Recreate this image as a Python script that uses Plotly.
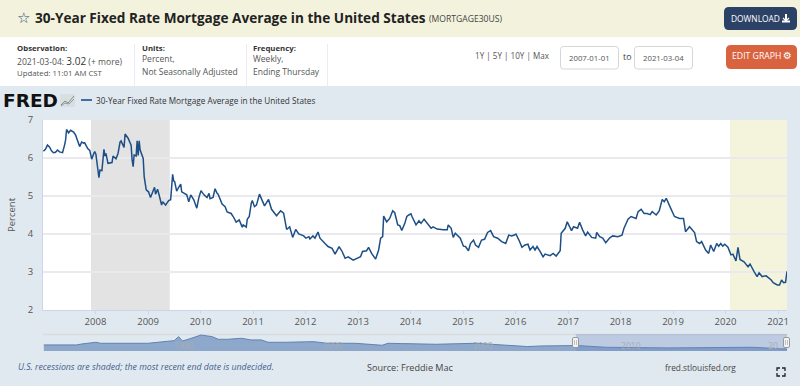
import pandas as pd
import plotly.graph_objects as go

weeks_2007 = [0,2,4,6,8,10,12,14,16,19,21,22,23,25,27,30,32,34,36,38,40,41,44,46,48,50,51]
vals_2007 = [6.18,6.23,6.34,6.29,6.19,6.14,6.15,6.21,6.16,6.14,6.34,6.47,6.75,6.66,6.73,6.68,6.6,6.47,6.3,6.42,6.39,6.4,6.25,6.2,5.97,6.12,6.17]
weeks_2008 = [0,2,3,4,6,8,9,10,12,16,17,20,22,24,25,28,29,32,35,36,37,38,40,41,42,43,44,47,48,50]
vals_2008 = [6.1,5.75,5.48,5.68,5.67,6.23,6.05,6.12,5.86,5.88,6.05,5.98,6.12,6.42,6.45,6.28,6.63,6.52,6.34,5.95,5.77,6.08,6.05,6.45,6.07,6.45,6.21,5.99,5.51,5.16]
weeks_2009 = [0,2,4,6,7,9,11,13,14,17,20,22,24,25,26,28,30,32,33,38,40,42,45,48,50]
vals_2009 = [5.11,4.96,5.11,5.23,5.05,5.18,4.98,4.76,4.85,4.76,4.88,4.9,5.57,5.4,5.38,5.13,5.23,5.31,5.11,5.03,4.85,5.03,4.9,4.68,4.95]
weeks_2010 = [0,3,6,8,9,12,14,16,17,21,24,26,30,32,35,38,41,42,45,46,48,50,51]
vals_2010 = [5.14,5.03,4.96,5.07,4.93,4.96,5.19,5.07,5.05,4.79,4.72,4.58,4.54,4.46,4.31,4.37,4.18,4.24,4.18,4.39,4.46,4.81,4.88]
weeks_2011 = [1,3,6,9,11,15,18,23,27,30,33,36,39,42,45,50]
vals_2011 = [4.72,4.76,5.05,4.89,4.74,4.91,4.65,4.48,4.61,4.55,4.12,4.19,3.91,4.12,4.0,3.95]
weeks_2012 = [0,3,4,7,9,12,14,19,22,26,29,33,36,39,42,47,50]
vals_2012 = [3.89,3.93,3.87,3.95,3.89,4.05,3.89,3.75,3.67,3.62,3.47,3.67,3.54,3.36,3.40,3.31,3.34]
weeks_2013 = [2,4,8,10,13,17,20,22,24,25,28,31,34,36,39,41,43,46,48,50]
vals_2013 = [3.40,3.54,3.56,3.65,3.49,3.34,3.58,3.89,3.93,4.47,4.32,4.41,4.61,4.56,4.24,4.22,4.09,4.28,4.46,4.5]
weeks_2014 = [0,1,5,8,10,13,16,20,22,26,32,36,37,40,42,44,49]
vals_2014 = [4.53,4.46,4.24,4.35,4.28,4.39,4.30,4.15,4.19,4.13,4.11,4.11,4.24,4.15,3.91,4.02,3.89]
weeks_2015 = [0,2,5,7,10,12,15,18,21,24,27,30,34,38,42,45,48,51]
vals_2015 = [3.68,3.67,3.56,3.75,3.84,3.71,3.65,3.84,3.86,4.04,4.09,3.93,3.89,3.8,3.75,3.97,3.95,3.98]
weeks_2016 = [0,3,6,9,12,14,17,19,21,24,27,29,34,37,40,44,45,49,51]
vals_2016 = [4.0,3.84,3.65,3.71,3.73,3.58,3.67,3.58,3.67,3.54,3.40,3.47,3.43,3.49,3.42,3.56,4.02,4.15,4.32]
weeks_2017 = [3,5,9,11,14,17,19,23,27,28,31,34,37,41,44,49]
vals_2017 = [4.09,4.19,4.15,4.31,4.11,3.95,4.05,3.91,3.89,4.04,3.93,3.89,3.77,3.90,3.95,3.93]
weeks_2018 = [1,3,7,10,15,17,20,23,26,29,31,35,38,41,43,45,48,51]
vals_2018 = [3.97,4.15,4.39,4.46,4.41,4.59,4.65,4.54,4.54,4.51,4.59,4.5,4.61,4.91,4.85,4.94,4.76,4.59]
weeks_2019 = [1,6,10,12,16,21,23,26,28,32,35,37,40,43,45,47,49,51]
vals_2019 = [4.46,4.41,4.41,4.06,4.19,4.04,3.8,3.75,3.8,3.58,3.49,3.71,3.54,3.75,3.68,3.75,3.68,3.73]
weeks_2020 = [2,5,7,10,12,14,18,22,24,28,31,33,36,40,45,47,51]
vals_2020 = [3.65,3.45,3.47,3.29,3.65,3.33,3.27,3.14,3.21,3.01,2.88,2.98,2.88,2.9,2.79,2.72,2.66]
weeks_2021 = [1,3,5,7,9]
vals_2021 = [2.66,2.79,2.72,2.73,3.02]

nav_years = [1971.3,1973.5,1973.8,1974.8,1975.1,1978.3,1979.8,1980.05,1980.35,1980.6,1981.05,1981.85,1982.3,1982.6,1983,1983.65,1984.55,1985.2,1985.9,1986.35,1987.5,1988.6,1989.4,1990.3,1992.2,1994,1994.4,1995.3,1997.6,2000.3,2001.4,2003.75,2004.75,2007.1,2009,2011,2013.2,2018.8,2020.9,2021.17]
nav_vals = [7.5,7.5,8.4,10.4,9.3,9.3,11.8,12.2,16.6,11.8,14,18.4,17.3,16.6,13.7,13.7,14.8,13,13,10.4,10.4,10.4,11.1,9.3,9.3,7.1,9.3,9.0,8.2,9.3,8.2,5.7,6.4,6.75,4.9,4.2,4.2,4.9,2.7,3.0]

year_tick_vals = list(range(2008, 2022))
y_ticks = [2, 3, 4, 5, 6, 7]
nav_labels = ["1980", "1990", "2000", "2010", "20.."]

all_weeks = {2007:(weeks_2007,vals_2007),2008:(weeks_2008,vals_2008),2009:(weeks_2009,vals_2009),
             2010:(weeks_2010,vals_2010),2011:(weeks_2011,vals_2011),2012:(weeks_2012,vals_2012),
             2013:(weeks_2013,vals_2013),2014:(weeks_2014,vals_2014),2015:(weeks_2015,vals_2015),
             2016:(weeks_2016,vals_2016),2017:(weeks_2017,vals_2017),2018:(weeks_2018,vals_2018),
             2019:(weeks_2019,vals_2019),2020:(weeks_2020,vals_2020),2021:(weeks_2021,vals_2021)}
dates, values = [], []
for yr, (w, v) in all_weeks.items():
    for a, b in zip(w, v):
        dates.append(pd.Timestamp(f"{yr}-01-04") + pd.Timedelta(days=7 * a))
        values.append(b)
dates[-1] = pd.Timestamp("2021-03-04")

nav_dates = [pd.Timestamp(f"{int(y)}-01-01") + pd.Timedelta(days=(y % 1) * 365.25) for y in nav_years]

W, H = 800, 386
def xp(x): return x / W
def yp(y): return 1 - y / H

FONT = "Open Sans"
shapes, ann = [], []

def rect(x0, y0, x1, y1, fill, line=None, layer="below", lw=1):
    shapes.append(dict(type="rect", xref="paper", yref="paper", x0=xp(x0), x1=xp(x1), y0=yp(y1), y1=yp(y0),
                       fillcolor=fill, line=dict(color=line or "rgba(0,0,0,0)", width=lw if line else 0), layer=layer))

def rrect(x0, y0, x1, y1, r, fill, line=None, layer="below", lw=1):
    X0, X1, Y0, Y1 = xp(x0), xp(x1), yp(y0), yp(y1)
    rx, ry = r / W, r / H
    p = (f"M {X0+rx} {Y0} L {X1-rx} {Y0} Q {X1} {Y0} {X1} {Y0-ry} L {X1} {Y1+ry} Q {X1} {Y1} {X1-rx} {Y1} "
         f"L {X0+rx} {Y1} Q {X0} {Y1} {X0} {Y1+ry} L {X0} {Y0-ry} Q {X0} {Y0} {X0+rx} {Y0} Z")
    shapes.append(dict(type="path", xref="paper", yref="paper", path=p, fillcolor=fill,
                       line=dict(color=line or "rgba(0,0,0,0)", width=lw if line else 0), layer=layer))

def seg(pts, color, width=1, fill=None, layer="above"):
    p = "M " + " L ".join(f"{xp(a)} {yp(b)}" for a, b in pts)
    d = dict(type="path", xref="paper", yref="paper", path=p, line=dict(color=color, width=width), layer=layer)
    if fill:
        d["fillcolor"] = fill
    shapes.append(d)

def text(x, y, s, size=10, color="#555", anchor="left", font=FONT, **kw):
    ann.append(dict(xref="paper", yref="paper", x=xp(x), y=yp(y), text=s, showarrow=False, xanchor=anchor,
                    yanchor="middle", align=anchor, borderpad=0, borderwidth=0,
                    font=dict(size=size, color=color, family=font), **kw))

# page bands
rect(0, 0, 800, 37, "#f3f3dd")
rect(0, 37, 800, 86, "#ffffff")
rect(43, 120, 787, 310, "#ffffff")

# header
text(17, 18, "☆", 15, "#2b4a7a", font="DejaVu Sans")
text(34.5, 18, "<b>30-Year Fixed Rate Mortgage Average in the United States</b>", 13.6, "#222")
text(429, 19.5, "(MORTGAGE30US)", 8.6, "#444")
rrect(724, 7, 797, 30, 5, "#2b4166")
text(731, 18.5, "DOWNLOAD", 8.4, "#ffffff")
seg([(786, 14), (786, 20)], "#ffffff", 2)
seg([(783, 18), (786, 21), (789, 18)], "#ffffff", 1.2)
seg([(782, 21.5), (790, 21.5)], "#ffffff", 2)
rrect(726, 45, 797, 69, 5, "#d9623f")
text(731.5, 56, "EDIT GRAPH", 8.7, "#ffffff")
text(783, 55.5, "⚙", 10, "#ffffff", font="DejaVu Sans")

# meta
text(17, 48, "<b>Observation:</b>", 7.8, "#333")
text(17, 61, "2021-03-04: <span style='font-size:10px;color:#333'>3.02</span> (+ more)", 8.6, "#555")
text(17, 73, "Updated: 11:01 AM CST", 7.8, "#555")
text(142, 48, "<b>Units:</b>", 7.8, "#333")
text(142, 59, "Percent,", 8.5, "#555")
text(142, 71, "Not Seasonally Adjusted", 8.5, "#555")
text(253, 48, "<b>Frequency:</b>", 7.8, "#333")
text(253, 59, "Weekly,", 8.5, "#555")
text(253, 71, "Ending Thursday", 8.5, "#555")
for dx in (134.5, 246.5, 327.5):
    seg([(dx, 44), (dx, 86)], "#e8edf2", 1, layer="below")
text(475, 55, "1Y | 5Y | 10Y | Max", 8.1, "#555")
rrect(560.5, 46.5, 618.5, 69, 3, "#ffffff", "#d6d6d6")
rrect(634.5, 46.5, 692.5, 69, 3, "#ffffff", "#d6d6d6")
text(589.5, 58, "2007-01-01", 7.8, "#555", anchor="center")
text(663.5, 58, "2021-03-04", 7.8, "#555", anchor="center")
text(626.5, 57, "to", 8.8, "#444", anchor="center")

# FRED logo + legend
text(3, 100, "<b>FRED</b>", 18.5, "#111", font="DejaVu Sans")
rect(60, 94, 75, 107, "#d9dee2")
seg([(61, 105), (65, 101), (68, 103), (74, 96)], "#7d9a6a", 1)
seg([(61, 106), (65, 103), (69, 104), (74, 99)], "#8a9aa8", 1)
seg([(81, 100), (92, 100)], "#1d4f86", 1.6)
text(96, 100, "30-Year Fixed Rate Mortgage Average in the United States", 8.2, "#333")

# chart bands on the data axis
for a, b, c in [("2007-12-01", "2009-06-01", "#e3e3e3"), ("2020-02-01", "2021-03-04", "#f4f3dc")]:
    shapes.append(dict(type="rect", xref="x", yref="y", x0=a, x1=b, y0=2, y1=7, fillcolor=c, line=dict(width=0), layer="below"))

# navigator furniture
seg([(43, 334.5), (787, 334.5)], "#d9dcdc", 1.5, layer="below")
shapes.append(dict(type="rect", xref="x2", yref="paper", x0="2007-01-01", x1="2021-03-04", y0=yp(351), y1=yp(334),
                   fillcolor="rgba(102,133,194,0.3)", line=dict(width=0), layer="above"))
for hx in (575.5, 786.5):
    rrect(hx - 3, 337.5, hx + 3, 347.5, 1.5, "#f4f4f4", "#999999", layer="above")
    seg([(hx - 1, 340), (hx - 1, 345)], "#aaaaaa", 0.7)
    seg([(hx + 1, 340), (hx + 1, 345)], "#aaaaaa", 0.7)
for lx, lab in zip((184, 333, 483, 631, 782), nav_labels):
    text(lx, 346, lab, 8.6, "#a9adb3", anchor="center" if lab != "20.." else "right")

# footer
text(18, 367, "<i>U.S. recessions are shaded; the most recent end date is undecided.</i>", 8.75, "#3f5f8f")
text(367, 367, "Source: Freddie Mac", 9.1, "#444")
text(665, 367, "fred.stlouisfed.org", 8.3, "#444")
for a, b, c in [((777, 371), (777, 368), (780, 368)), ((782, 368), (785, 368), (785, 371)),
                ((785, 373), (785, 376), (782, 376)), ((780, 376), (777, 376), (777, 373))]:
    seg([a, b, c], "#222", 1.3)

fig = go.Figure()
fig.add_trace(go.Scatter(x=dates, y=values, mode="lines", line=dict(color="#1d4f86", width=1.5),
                         name="30-Year Fixed Rate Mortgage Average in the United States", hoverinfo="x+y"))
fig.add_trace(go.Scatter(x=nav_dates, y=nav_vals, mode="lines", xaxis="x2", yaxis="y2", fill="tozeroy",
                         line=dict(color="#5f83b3", width=1), fillcolor="#8da8cb", name="Navigator", hoverinfo="skip"))

fig.update_layout(
    width=W, height=H, margin=dict(l=0, r=0, t=0, b=0, autoexpand=False), showlegend=False,
    paper_bgcolor="#e1e9f0", plot_bgcolor="rgba(0,0,0,0)",
    font=dict(family=FONT, size=10, color="#555"),
    xaxis=dict(domain=[xp(43), xp(787)], type="date", range=["2007-01-01", "2021-03-04"],
               tickvals=[f"{y}-01-01" for y in year_tick_vals], ticktext=[str(y) for y in year_tick_vals],
               ticks="outside", ticklen=3, tickcolor="#ccd6eb", showline=True, linecolor="#ccd6eb", linewidth=1,
               showgrid=False, tickfont=dict(size=9.5, color="#555"), anchor="y"),
    yaxis=dict(domain=[yp(310), yp(120)], range=[2, 7], tickvals=y_ticks, gridcolor="#e9e9ee", gridwidth=1.5,
               ticks="outside", ticklen=7, tickcolor="rgba(0,0,0,0)", showline=True, linecolor="#ccd6eb",
               tickfont=dict(size=9.5, color="#555"), zeroline=False, anchor="x",
               title=dict(text="Percent", font=dict(size=9.5, color="#555"), standoff=10)),
    xaxis2=dict(domain=[xp(43), xp(787)], type="date", range=["1971-04-01", "2021-03-04"], visible=False, anchor="y2"),
    yaxis2=dict(domain=[yp(351), yp(334)], range=[0.8, 19.5], visible=False, anchor="x2"),
    shapes=shapes, annotations=ann,
)
fig.write_html("out.html", config=dict(displayModeBar=False),
               post_script="document.body.style.margin='0';document.body.style.overflow='hidden';")
